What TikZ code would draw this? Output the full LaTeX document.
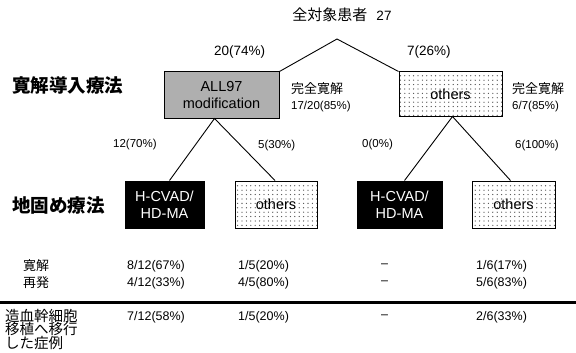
\documentclass[tikz,border=0pt]{standalone}
\usepackage{fontspec}
\setmainfont{Liberation Sans}
\newfontfamily\jp{Noto Sans CJK JP}
\usetikzlibrary{patterns.meta,calc}
\tikzdeclarepattern{name=sparsedots,type=uncolored,bounding box={(-1pt,-1pt) and (1pt,1pt)},tile size={(4.4pt,4.4pt)},code={\fill (0pt,0pt) circle (0.65pt);}}
\tikzdeclarepattern{name=densedots,type=uncolored,bounding box={(-1pt,-1pt) and (1pt,1pt)},tile size={(2pt,2pt)},code={\fill (0pt,0pt) circle (0.55pt);}}
\tikzset{
  box/.style={draw, line width=1pt, inner sep=0pt, align=center, font=\fontsize{14.5}{17}\selectfont},
  graybox/.style={box, preaction={fill=gray!45}, pattern={densedots}, pattern color=black!60},
  dotbox/.style={box, pattern={sparsedots}, pattern color=black!70},
  blackbox/.style={box, fill=black, text=white},
  conn/.style={line width=0.9pt},
  lbl/.style={inner sep=0pt, anchor=west, font=\fontsize{12.5}{14}\selectfont},
  slbl/.style={inner sep=0pt, anchor=west, font=\fontsize{11.5}{14}\selectfont},
  head/.style={inner sep=0pt, anchor=west, font=\jp\bfseries\fontsize{18.5}{20}\selectfont},
  jps/.style={inner sep=0pt, anchor=west, align=left, font=\jp\fontsize{13}{15.5}\selectfont},
}
\begin{document}
\begin{tikzpicture}[x=1pt,y=-1pt]
\useasboundingbox (0,0) rectangle (576,353);
% title
\node[inner sep=0pt, font=\fontsize{15}{18}\selectfont] (title) at (342,15) {{\jp 全対象患者}\hspace{9pt}{\fontsize{13.5}{16}\selectfont 27}};
\coordinate (apex) at (337,39);
% level 1
\node[graybox, minimum width=115, minimum height=46] (all) at (221.5,95) {ALL97\\modification};
\node[dotbox, minimum width=103, minimum height=44] (oth) at (450.5,94) {others};
\draw[conn] (all.north east) -- (apex) -- (oth.north west);
\node[lbl, font=\fontsize{13.5}{16}\selectfont] (p20) at (214,52) {20(74\%)};
\node[lbl, font=\fontsize{13.5}{16}\selectfont] (p7) at (407,52) {7(26\%)};
\node[head] (induct) at (12,85) {寛解導入療法};
\node[jps, align=left] (cr1) at (291,97) {完全寛解\\{\normalfont\fontsize{11.5}{14}\selectfont 17/20(85\%)}};
\node[jps, align=left] (cr2) at (512,97) {完全寛解\\{\normalfont\fontsize{11.5}{14}\selectfont 6/7(85\%)}};
% level 2
\node[blackbox, minimum width=79, minimum height=47] (h1) at (164.5,204.5) {H-CVAD/\\HD-MA};
\node[dotbox, minimum width=82, minimum height=47] (o1) at (276,204.5) {others};
\node[blackbox, minimum width=85, minimum height=47] (h2) at (399.5,204.5) {H-CVAD/\\HD-MA};
\node[dotbox, minimum width=83, minimum height=47] (o2) at (513.5,204.5) {others};
\draw[conn] ($(h1.north)+(5,0)$) -- ($(all.south)+(-7,0)$) -- ($(o1.north)+(-1,0)$);
\draw[conn] ($(h2.north)+(5,0)$) -- ($(oth.south)+(2,0)$) -- ($(o2.north)+(-3,0)$);
\node[slbl] (p12) at (113,145) {12(70\%)};
\node[slbl] (p5) at (258,146) {5(30\%)};
\node[slbl] (p0) at (362,145) {0(0\%)};
\node[slbl] (p6) at (515,146) {6(100\%)};
\node[head] (consol) at (12,205) {地固め療法};
% table
\node[jps] (r1) at (23,266) {寛解};
\node[jps] (r2) at (23,283) {再発};
\node[lbl] (a1) at (127,266) {8/12(67\%)};
\node[lbl] (a2) at (238,266) {1/5(20\%)};
\node[lbl] (a3) at (381,266) {–};
\node[lbl] (a4) at (476,266) {1/6(17\%)};
\node[lbl] (b1) at (127,283) {4/12(33\%)};
\node[lbl] (b2) at (238,283) {4/5(80\%)};
\node[lbl] (b3) at (381,283) {–};
\node[lbl] (b4) at (476,283) {5/6(83\%)};
\coordinate (ll) at (0,302);
\coordinate (lr) at (576,302);
\draw[line width=3pt] (ll) -- (lr);
\node[jps, anchor=north west, font=\jp\fontsize{14.5}{13.5}\selectfont] (r3) at (5,309) {造血幹細胞\\移植へ移行\\した症例};
\node[lbl] (c1) at (127,317) {7/12(58\%)};
\node[lbl] (c2) at (238,317) {1/5(20\%)};
\node[lbl] (c3) at (381,317) {–};
\node[lbl] (c4) at (476,317) {2/6(33\%)};
\end{tikzpicture}
\end{document}
